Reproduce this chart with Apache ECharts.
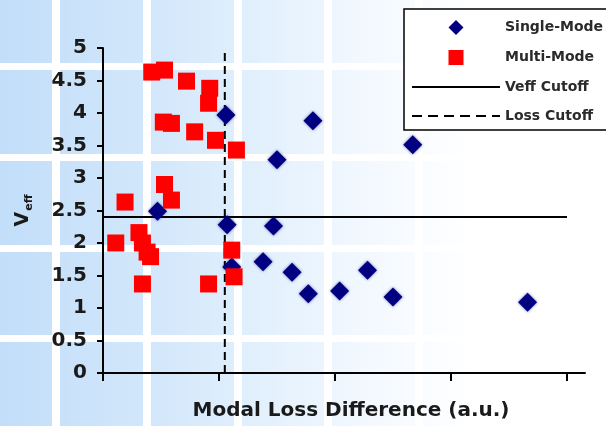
<!DOCTYPE html>
<html>
<head>
<meta charset="utf-8">
<script src="https://cdn.jsdelivr.net/npm/echarts@6/dist/echarts.min.js"></script>
<style>
  html, body { margin: 0; padding: 0; background: #ffffff; }
  #chart { width: 606px; height: 426px; }
</style>
</head>
<body>
<div id="chart"></div>
<script>
// Single-mode devices: modal loss difference (a.u.) vs. V_eff
const singleModeX = [1.06, 1.50, 0.47, 1.07, 1.47, 1.11, 1.38, 1.63, 1.77, 2.04, 2.28, 2.50, 1.81, 2.67, 3.66];
const singleModeY = [3.97, 3.28, 2.49, 2.28, 2.26, 1.63, 1.71, 1.55, 1.22, 1.26, 1.58, 1.17, 3.88, 3.51, 1.09];

// Multi-mode devices
const multiModeX = [0.42, 0.53, 0.72, 0.92, 0.91, 0.52, 0.59, 0.79, 0.97, 1.15, 0.53, 0.59, 0.19, 0.11, 0.31, 0.34, 0.38, 0.41, 0.34, 0.91, 1.11, 1.13];
const multiModeY = [4.63, 4.66, 4.49, 4.38, 4.15, 3.86, 3.84, 3.71, 3.58, 3.43, 2.90, 2.66, 2.63, 2.00, 2.16, 2.00, 1.86, 1.79, 1.37, 1.37, 1.89, 1.48];

// Cutoff thresholds
const veffCutoff = 2.4;
const lossCutoff = 1.05;
const xTickValues = [0, 1, 2, 3, 4];

const FONT = 'DejaVu Sans';

function zip(xs, ys) { return xs.map((x, i) => [x, ys[i]]); }

// Tiled light-blue backdrop fading to white on the right
const bg = [{
  type: 'rect', z: -100, silent: true,
  shape: { x: 0, y: 0, width: 606, height: 426 },
  style: {
    fill: {
      type: 'linear', x: 0, y: 0, x2: 1, y2: 0,
      colorStops: [
        { offset: 0, color: '#c2def9' },
        { offset: 0.25, color: '#d2e7fb' },
        { offset: 0.45, color: '#e4f1fd' },
        { offset: 0.62, color: '#f4f9ff' },
        { offset: 0.78, color: '#ffffff' },
        { offset: 1, color: '#ffffff' }
      ]
    }
  }
}];
[52, 143, 234, 324, 415, 506, 597].forEach(x => bg.push({
  type: 'rect', z: -99, silent: true,
  shape: { x: x, y: 0, width: 8, height: 426 }, style: { fill: '#ffffff' }
}));
[63, 154, 245, 335].forEach(y => bg.push({
  type: 'rect', z: -99, silent: true,
  shape: { x: 0, y: y, width: 606, height: 7 }, style: { fill: '#ffffff' }
}));

// Legend entries for the cutoff lines show the stroke only
const lineOnly = { color: 'rgba(0,0,0,0)', borderWidth: 0, opacity: 0 };

const chart = echarts.init(document.getElementById('chart'), null, { renderer: 'canvas' });
chart.setOption({
  animation: false,
  graphic: bg,
  grid: { left: 103, right: 21, top: 48, bottom: 53, containLabel: false },
  legend: {
    orient: 'vertical',
    left: 404, top: 9,
    padding: [11, 60, 7, 7],
    backgroundColor: '#ffffff',
    borderColor: '#000000', borderWidth: 1.5, borderRadius: 0,
    itemWidth: 88, itemHeight: 15, itemGap: 15,
    textStyle: { fontFamily: FONT, fontWeight: 'bold', fontSize: 14, color: '#2a2a2a' },
    data: [
      { name: 'Single-Mode', icon: 'path://M1,0L2,1L1,2L0,1Z' },
      { name: 'Multi-Mode', icon: 'path://M0,0L1,0L1,1L0,1Z' },
      { name: 'Veff Cutoff', itemStyle: lineOnly },
      { name: 'Loss Cutoff', itemStyle: lineOnly, lineStyle: { type: [10, 6], width: 2 } }
    ]
  },
  xAxis: {
    type: 'value', min: 0, max: 4.155, interval: 1,
    splitLine: { show: false },
    axisLine: { show: true, onZero: false, lineStyle: { color: '#000', width: 2 } },
    axisTick: { show: true, inside: false, length: 8, lineStyle: { color: '#000', width: 2 }, customValues: xTickValues },
    axisLabel: { show: false },
    name: 'Modal Loss Difference (a.u.)',
    nameLocation: 'middle', nameGap: 28,
    nameTextStyle: { fontFamily: FONT, fontWeight: 'bold', fontSize: 20, color: '#1a1a1a', padding: [0, 0, 0, 14] }
  },
  yAxis: {
    type: 'value', min: 0, max: 5, interval: 0.5,
    splitLine: { show: false },
    axisLine: { show: true, lineStyle: { color: '#000', width: 2 } },
    axisTick: { show: true, inside: false, length: 6, lineStyle: { color: '#000', width: 2 } },
    axisLabel: { fontFamily: FONT, fontWeight: 'bold', fontSize: 20, color: '#1a1a1a', margin: 16 },
    name: '{v|V}{s|eff}',
    nameLocation: 'middle', nameGap: 68, nameRotate: 90,
    nameTextStyle: {
      color: '#1a1a1a',
      rich: {
        v: { fontFamily: FONT, fontWeight: 'bold', fontSize: 19, color: '#1a1a1a' },
        s: { fontFamily: FONT, fontWeight: 'bold', fontSize: 11, color: '#1a1a1a', padding: [12, 0, 0, 1] }
      }
    }
  },
  series: [
    {
      name: 'Veff Cutoff', type: 'line', z: 1,
      data: [[0, veffCutoff], [4, veffCutoff]],
      symbol: 'none',
      lineStyle: { color: '#000000', width: 2, type: 'solid' },
      itemStyle: { color: '#000000' }
    },
    {
      name: 'Loss Cutoff', type: 'line', z: 1,
      data: [[lossCutoff, 0], [lossCutoff, 5]],
      symbol: 'none',
      lineStyle: { color: '#000000', width: 2, type: [8, 5] },
      itemStyle: { color: '#000000' }
    },
    {
      name: 'Single-Mode', type: 'scatter', z: 2,
      symbol: 'diamond', symbolSize: 19,
      data: zip(singleModeX, singleModeY),
      itemStyle: { color: '#000080', opacity: 1, shadowBlur: 3, shadowColor: 'rgba(0,0,128,0.55)' }
    },
    {
      name: 'Multi-Mode', type: 'scatter', z: 3,
      symbol: 'rect', symbolSize: 17,
      data: zip(multiModeX, multiModeY),
      itemStyle: { color: '#ff0000', opacity: 1 }
    }
  ]
});
</script>
</body>
</html>
